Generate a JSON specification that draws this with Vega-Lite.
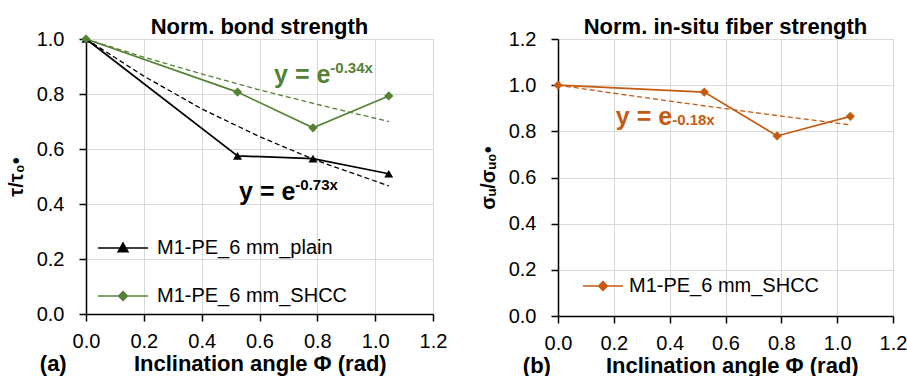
{
  "$schema": "https://vega.github.io/schema/vega-lite/v6.json",
  "background": "white",
  "padding": {"left": 6, "top": 16, "right": 5, "bottom": 0},
  "bounds": "flush",
  "spacing": 125,
  "datasets": {
    "bond": [
      {"series": "M1-PE_6 mm_plain", "x": 0, "y": 1.0},
      {"series": "M1-PE_6 mm_plain", "x": 0.524, "y": 0.575},
      {"series": "M1-PE_6 mm_plain", "x": 0.785, "y": 0.565},
      {"series": "M1-PE_6 mm_plain", "x": 1.047, "y": 0.51},
      {"series": "M1-PE_6 mm_SHCC", "x": 0, "y": 1.0},
      {"series": "M1-PE_6 mm_SHCC", "x": 0.524, "y": 0.807},
      {"series": "M1-PE_6 mm_SHCC", "x": 0.785, "y": 0.677},
      {"series": "M1-PE_6 mm_SHCC", "x": 1.047, "y": 0.793}
    ],
    "bondFit": [
      {"series": "M1-PE_6 mm_plain", "x": 0, "y": 1.0},
      {"series": "M1-PE_6 mm_plain", "x": 0.2, "y": 0.865},
      {"series": "M1-PE_6 mm_plain", "x": 0.4, "y": 0.746},
      {"series": "M1-PE_6 mm_plain", "x": 0.6, "y": 0.645},
      {"series": "M1-PE_6 mm_plain", "x": 0.8, "y": 0.557},
      {"series": "M1-PE_6 mm_plain", "x": 1.047, "y": 0.466},
      {"series": "M1-PE_6 mm_SHCC", "x": 0, "y": 1.0},
      {"series": "M1-PE_6 mm_SHCC", "x": 0.2, "y": 0.934},
      {"series": "M1-PE_6 mm_SHCC", "x": 0.4, "y": 0.873},
      {"series": "M1-PE_6 mm_SHCC", "x": 0.6, "y": 0.815},
      {"series": "M1-PE_6 mm_SHCC", "x": 0.8, "y": 0.762},
      {"series": "M1-PE_6 mm_SHCC", "x": 1.047, "y": 0.70}
    ],
    "bondEq": [
      {"series": "M1-PE_6 mm_SHCC", "x": 0.845, "y": 0.84, "base": "y = e", "exp": "-0.34x"},
      {"series": "M1-PE_6 mm_plain", "x": 0.724, "y": 0.415, "base": "y = e", "exp": "-0.73x"}
    ],
    "fiber": [
      {"series": "M1-PE_6 mm_SHCC", "x": 0, "y": 1.0},
      {"series": "M1-PE_6 mm_SHCC", "x": 0.524, "y": 0.97},
      {"series": "M1-PE_6 mm_SHCC", "x": 0.785, "y": 0.78},
      {"series": "M1-PE_6 mm_SHCC", "x": 1.047, "y": 0.865}
    ],
    "fiberFit": [
      {"series": "M1-PE_6 mm_SHCC", "x": 0, "y": 1.0},
      {"series": "M1-PE_6 mm_SHCC", "x": 0.2, "y": 0.965},
      {"series": "M1-PE_6 mm_SHCC", "x": 0.4, "y": 0.931},
      {"series": "M1-PE_6 mm_SHCC", "x": 0.6, "y": 0.898},
      {"series": "M1-PE_6 mm_SHCC", "x": 0.8, "y": 0.866},
      {"series": "M1-PE_6 mm_SHCC", "x": 1.047, "y": 0.828}
    ],
    "fiberEq": [
      {"series": "M1-PE_6 mm_SHCC", "x": 0.409, "y": 0.827, "base": "y = e", "exp": "-0.18x"}
    ]
  },
  "hconcat": [
    {
      "title": {"text": "Norm. bond strength"},
      "width": 347,
      "height": 275,
      "encoding": {
        "x": {
          "field": "x", "type": "quantitative",
          "scale": {"domain": [0, 1.2], "nice": false},
          "axis": {
            "values": [0, 0.2, 0.4, 0.6, 0.8, 1.0, 1.2], "format": ".1f",
            "title": "(a)\u00a0\u00a0\u00a0\u00a0\u00a0\u00a0\u00a0\u00a0\u00a0\u00a0\u00a0Inclination angle Φ (rad)",
            "titleAlign": "left", "titleX": -46.7
          }
        },
        "y": {
          "field": "y", "type": "quantitative",
          "scale": {"domain": [0, 1.0], "nice": false},
          "axis": {"values": [0, 0.2, 0.4, 0.6, 0.8, 1.0], "format": ".1f", "title": "τ/τ₀•"}
        }
      },
      "layer": [
        {
          "data": {"name": "bondFit"},
          "mark": {"type": "line", "strokeDash": [5, 3], "strokeWidth": 1.3},
          "encoding": {
            "detail": {"field": "series"},
            "color": {"condition": {"test": "datum.series === 'M1-PE_6 mm_plain'", "value": "#000000"}, "value": "#548235"}
          }
        },
        {
          "data": {"name": "bond"},
          "mark": {"type": "line", "strokeWidth": 1.7},
          "encoding": {
            "color": {
              "field": "series", "type": "nominal",
              "scale": {"domain": ["M1-PE_6 mm_plain", "M1-PE_6 mm_SHCC"], "range": ["#000000", "#548235"]},
              "legend": {
                "orient": "none", "legendX": 11, "legendY": 183, "title": null,
                "rowPadding": 12, "labelOffset": 8, "symbolSize": 2500, "labelLimit": 400,
                "encode": {"symbols": {"update": {
                  "shape": {"signal": "datum.value === 'M1-PE_6 mm_plain' ? 'M-1,0H1M-0.2,0.15L0,-0.2L0.2,0.15Z' : 'M-1,0H1M-0.18,0L0,-0.18L0.18,0L0,0.18Z'"},
                  "stroke": {"signal": "datum.value === 'M1-PE_6 mm_plain' ? '#000000' : '#548235'"},
                  "fill": {"signal": "datum.value === 'M1-PE_6 mm_plain' ? '#000000' : '#548235'"},
                  "strokeWidth": {"value": 1.5},
                  "opacity": {"value": 1}
                }}}
              }
            }
          }
        },
        {
          "data": {"name": "bond"},
          "transform": [{"filter": "datum.series === 'M1-PE_6 mm_plain'"}],
          "mark": {"type": "point", "filled": true, "opacity": 1, "size": 80, "shape": "triangle-up", "color": "#000000"},
          "encoding": {}
        },
        {
          "data": {"name": "bond"},
          "transform": [{"filter": "datum.series === 'M1-PE_6 mm_SHCC'"}],
          "mark": {"type": "point", "filled": true, "opacity": 1, "size": 85, "shape": "diamond", "color": "#548235"},
          "encoding": {}
        },
        {
          "data": {"name": "bondEq"},
          "mark": {"type": "text", "align": "right", "baseline": "alphabetic", "fontSize": 25, "fontWeight": "bold"},
          "encoding": {
            "text": {"field": "base"},
            "color": {"condition": {"test": "datum.series === 'M1-PE_6 mm_plain'", "value": "#000000"}, "value": "#548235"}
          }
        },
        {
          "data": {"name": "bondEq"},
          "mark": {"type": "text", "align": "left", "baseline": "alphabetic", "fontSize": 15, "fontWeight": "bold", "dy": -10},
          "encoding": {
            "text": {"field": "exp"},
            "color": {"condition": {"test": "datum.series === 'M1-PE_6 mm_plain'", "value": "#000000"}, "value": "#548235"}
          }
        }
      ]
    },
    {
      "title": {"text": "Norm. in-situ fiber strength"},
      "width": 335,
      "height": 277,
      "encoding": {
        "x": {
          "field": "x", "type": "quantitative",
          "scale": {"domain": [0, 1.2], "nice": false},
          "axis": {
            "values": [0, 0.2, 0.4, 0.6, 0.8, 1.0, 1.2], "format": ".1f",
            "title": "(b)\u00a0\u00a0\u00a0\u00a0\u00a0\u00a0\u00a0\u00a0\u00a0Inclination angle Φ (rad)",
            "titleAlign": "left", "titleX": -35.7
          }
        },
        "y": {
          "field": "y", "type": "quantitative",
          "scale": {"domain": [0, 1.2], "nice": false},
          "axis": {"values": [0, 0.2, 0.4, 0.6, 0.8, 1.0, 1.2], "format": ".1f", "title": "σᵤ/σᵤ₀•"}
        }
      },
      "layer": [
        {
          "data": {"name": "fiberFit"},
          "mark": {"type": "line", "strokeDash": [5, 3], "strokeWidth": 1.3, "color": "#C55A11"},
          "encoding": {}
        },
        {
          "data": {"name": "fiber"},
          "mark": {"type": "line", "strokeWidth": 1.7},
          "encoding": {
            "color": {
              "field": "series", "type": "nominal",
              "scale": {"domain": ["M1-PE_6 mm_SHCC"], "range": ["#C55A11"]},
              "legend": {
                "orient": "none", "legendX": 24, "legendY": 226, "title": null,
                "labelOffset": 5, "symbolSize": 1600, "labelLimit": 400,
                "encode": {"symbols": {"update": {
                  "shape": {"value": "M-1,0H1M-0.22,0L0,-0.22L0.22,0L0,0.22Z"},
                  "stroke": {"value": "#C55A11"},
                  "fill": {"value": "#C55A11"},
                  "strokeWidth": {"value": 1.5},
                  "opacity": {"value": 1}
                }}}
              }
            }
          }
        },
        {
          "data": {"name": "fiber"},
          "mark": {"type": "point", "filled": true, "opacity": 1, "size": 85, "shape": "diamond", "color": "#C55A11"},
          "encoding": {}
        },
        {
          "data": {"name": "fiberEq"},
          "mark": {"type": "text", "align": "right", "baseline": "alphabetic", "fontSize": 25, "fontWeight": "bold", "color": "#C55A11"},
          "encoding": {"text": {"field": "base"}}
        },
        {
          "data": {"name": "fiberEq"},
          "mark": {"type": "text", "align": "left", "baseline": "alphabetic", "fontSize": 15, "fontWeight": "bold", "color": "#C55A11"},
          "encoding": {"text": {"field": "exp"}}
        }
      ]
    }
  ],
  "resolve": {"scale": {"color": "independent"}},
  "config": {
    "font": "Liberation Sans",
    "view": {"stroke": null},
    "title": {"font": "Liberation Sans", "fontSize": 22, "fontWeight": "bold", "color": "#000000", "frame": "group", "baseline": "alphabetic", "offset": -10},
    "axis": {
      "labelFont": "Liberation Sans", "labelFontSize": 20, "labelColor": "#000000",
      "titleFont": "Liberation Sans", "titleFontSize": 20, "titleFontWeight": "bold", "titleColor": "#000000",
      "domainColor": "#000000", "domainWidth": 1.5,
      "tickColor": "#000000", "tickWidth": 1.5, "tickSize": 7,
      "gridColor": "#d9d9d9", "gridWidth": 1,
      "labelPadding": 15, "labelFlush": false, "labelOverlap": false
    },
    "axisX": {"labelPadding": 10, "titlePadding": 2, "titleFontSize": 22},
    "axisY": {"titlePadding": 10},
    "legend": {"labelFont": "Liberation Sans", "labelFontSize": 20, "labelColor": "#000000"}
  }
}
